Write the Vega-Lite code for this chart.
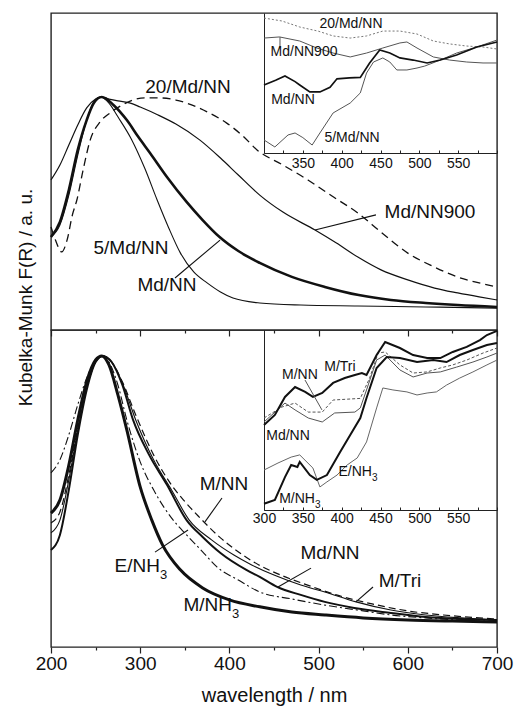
{
  "$schema": "https://vega.github.io/schema/vega-lite/v6.json",
  "padding": {"left": 15, "top": 12, "right": 4, "bottom": 0},
  "bounds": "flush",
  "spacing": 0,
  "config": {
    "view": {"stroke": "#222", "strokeWidth": 1.4},
    "font": "Liberation Sans",
    "axis": {"labelFont": "Liberation Sans", "titleFont": "Liberation Sans", "labelColor": "#111", "titleColor": "#111", "titleFontWeight": "normal", "grid": false},
    "text": {"font": "Liberation Sans", "color": "#111"},
    "line": {"color": "#111"}
  },
  "datasets": {
    "topMain": [
      {"s":"5/Md/NN","x":200,"y":0.399},{"s":"5/Md/NN","x":210,"y":0.451},{"s":"5/Md/NN","x":220,"y":0.579},{"s":"5/Md/NN","x":230,"y":0.751},{"s":"5/Md/NN","x":240,"y":0.901},{"s":"5/Md/NN","x":248,"y":0.979},{"s":"5/Md/NN","x":255,"y":1.0},{"s":"5/Md/NN","x":265,"y":0.974},{"s":"5/Md/NN","x":275,"y":0.915},{"s":"5/Md/NN","x":290,"y":0.82},{"s":"5/Md/NN","x":305,"y":0.695},{"s":"5/Md/NN","x":319,"y":0.558},{"s":"5/Md/NN","x":332,"y":0.438},{"s":"5/Md/NN","x":345,"y":0.331},{"s":"5/Md/NN","x":360,"y":0.249},{"s":"5/Md/NN","x":375,"y":0.202},{"s":"5/Md/NN","x":390,"y":0.163},{"s":"5/Md/NN","x":404,"y":0.137},{"s":"5/Md/NN","x":434,"y":0.116},{"s":"5/Md/NN","x":480,"y":0.107},{"s":"5/Md/NN","x":544,"y":0.103},{"s":"5/Md/NN","x":620,"y":0.099},{"s":"5/Md/NN","x":700,"y":0.094},
      {"s":"Md/NN","x":200,"y":0.399},{"s":"Md/NN","x":210,"y":0.464},{"s":"Md/NN","x":220,"y":0.601},{"s":"Md/NN","x":230,"y":0.773},{"s":"Md/NN","x":240,"y":0.901},{"s":"Md/NN","x":248,"y":0.974},{"s":"Md/NN","x":257,"y":1.0},{"s":"Md/NN","x":270,"y":0.966},{"s":"Md/NN","x":285,"y":0.901},{"s":"Md/NN","x":298,"y":0.828},{"s":"Md/NN","x":311,"y":0.76},{"s":"Md/NN","x":330,"y":0.657},{"s":"Md/NN","x":352,"y":0.55},{"s":"Md/NN","x":370,"y":0.472},{"s":"Md/NN","x":389,"y":0.399},{"s":"Md/NN","x":410,"y":0.339},{"s":"Md/NN","x":434,"y":0.288},{"s":"Md/NN","x":470,"y":0.228},{"s":"Md/NN","x":507,"y":0.185},{"s":"Md/NN","x":545,"y":0.15},{"s":"Md/NN","x":581,"y":0.129},{"s":"Md/NN","x":620,"y":0.116},{"s":"Md/NN","x":656,"y":0.107},{"s":"Md/NN","x":700,"y":0.099},
      {"s":"Md/NN900","x":200,"y":0.644},{"s":"Md/NN900","x":210,"y":0.708},{"s":"Md/NN900","x":220,"y":0.794},{"s":"Md/NN900","x":230,"y":0.88},{"s":"Md/NN900","x":240,"y":0.953},{"s":"Md/NN900","x":250,"y":0.991},{"s":"Md/NN900","x":256,"y":1.0},{"s":"Md/NN900","x":265,"y":0.991},{"s":"Md/NN900","x":275,"y":0.983},{"s":"Md/NN900","x":289,"y":0.974},{"s":"Md/NN900","x":300,"y":0.957},{"s":"Md/NN900","x":320,"y":0.923},{"s":"Md/NN900","x":340,"y":0.884},{"s":"Md/NN900","x":367,"y":0.815},{"s":"Md/NN900","x":390,"y":0.738},{"s":"Md/NN900","x":410,"y":0.665},{"s":"Md/NN900","x":434,"y":0.579},{"s":"Md/NN900","x":460,"y":0.506},{"s":"Md/NN900","x":496,"y":0.429},{"s":"Md/NN900","x":520,"y":0.373},{"s":"Md/NN900","x":544,"y":0.313},{"s":"Md/NN900","x":570,"y":0.258},{"s":"Md/NN900","x":600,"y":0.215},{"s":"Md/NN900","x":630,"y":0.18},{"s":"Md/NN900","x":656,"y":0.159},{"s":"Md/NN900","x":680,"y":0.142},{"s":"Md/NN900","x":700,"y":0.129},
      {"s":"20/Md/NN","x":200,"y":0.442},{"s":"20/Md/NN","x":205,"y":0.386},{"s":"20/Md/NN","x":212,"y":0.335},{"s":"20/Md/NN","x":218,"y":0.386},{"s":"20/Md/NN","x":224,"y":0.494},{"s":"20/Md/NN","x":229,"y":0.558},{"s":"20/Md/NN","x":236,"y":0.687},{"s":"20/Md/NN","x":244,"y":0.816},{"s":"20/Md/NN","x":255,"y":0.893},{"s":"20/Md/NN","x":266,"y":0.931},{"s":"20/Md/NN","x":280,"y":0.966},{"s":"20/Md/NN","x":292,"y":0.987},{"s":"20/Md/NN","x":305,"y":0.996},{"s":"20/Md/NN","x":322,"y":0.996},{"s":"20/Md/NN","x":340,"y":0.987},{"s":"20/Md/NN","x":352,"y":0.974},{"s":"20/Md/NN","x":375,"y":0.936},{"s":"20/Md/NN","x":397,"y":0.888},{"s":"20/Md/NN","x":415,"y":0.833},{"s":"20/Md/NN","x":431,"y":0.773},{"s":"20/Md/NN","x":460,"y":0.708},{"s":"20/Md/NN","x":488,"y":0.644},{"s":"20/Md/NN","x":515,"y":0.575},{"s":"20/Md/NN","x":544,"y":0.502},{"s":"20/Md/NN","x":570,"y":0.42},{"s":"20/Md/NN","x":600,"y":0.33},{"s":"20/Md/NN","x":630,"y":0.27},{"s":"20/Md/NN","x":656,"y":0.227},{"s":"20/Md/NN","x":680,"y":0.202},{"s":"20/Md/NN","x":700,"y":0.185}
    ],
    "topMainLabels": [
      {"t":"20/Md/NN","x":353.6,"y":1.043},{"t":"5/Md/NN","x":289.7,"y":0.352},{"t":"Md/NN","x":330,"y":0.193},{"t":"Md/NN900","x":624.9,"y":0.506}
    ],
    "topMainLeaders": [
      {"x":339,"y":0.223,"x2":389.5,"y2":0.386},{"x":564.3,"y":0.494,"x2":496,"y2":0.429}
    ],
    "topInset": [
      {"s":"20/Md/NN","x":300,"y":0.964},{"s":"20/Md/NN","x":323,"y":0.943},{"s":"20/Md/NN","x":346,"y":0.9},{"s":"20/Md/NN","x":370,"y":0.87},{"s":"20/Md/NN","x":389,"y":0.836},{"s":"20/Md/NN","x":411,"y":0.821},{"s":"20/Md/NN","x":432,"y":0.836},{"s":"20/Md/NN","x":453,"y":0.871},{"s":"20/Md/NN","x":475,"y":0.871},{"s":"20/Md/NN","x":497,"y":0.85},{"s":"20/Md/NN","x":518,"y":0.8},{"s":"20/Md/NN","x":539,"y":0.779},{"s":"20/Md/NN","x":561,"y":0.764},{"s":"20/Md/NN","x":582,"y":0.757},{"s":"20/Md/NN","x":600,"y":0.743},
      {"s":"Md/NN900","x":300,"y":0.821},{"s":"Md/NN900","x":320,"y":0.829},{"s":"Md/NN900","x":346,"y":0.8},{"s":"Md/NN900","x":368,"y":0.75},{"s":"Md/NN900","x":389,"y":0.714},{"s":"Md/NN900","x":411,"y":0.686},{"s":"Md/NN900","x":432,"y":0.714},{"s":"Md/NN900","x":453,"y":0.75},{"s":"Md/NN900","x":475,"y":0.786},{"s":"Md/NN900","x":484,"y":0.793},{"s":"Md/NN900","x":497,"y":0.75},{"s":"Md/NN900","x":518,"y":0.686},{"s":"Md/NN900","x":539,"y":0.664},{"s":"Md/NN900","x":561,"y":0.65},{"s":"Md/NN900","x":582,"y":0.643},{"s":"Md/NN900","x":600,"y":0.643},
      {"s":"Md/NN","x":300,"y":0.486},{"s":"Md/NN","x":315,"y":0.52},{"s":"Md/NN","x":327,"y":0.55},{"s":"Md/NN","x":340,"y":0.51},{"s":"Md/NN","x":346,"y":0.486},{"s":"Md/NN","x":359,"y":0.436},{"s":"Md/NN","x":372,"y":0.436},{"s":"Md/NN","x":385,"y":0.47},{"s":"Md/NN","x":394,"y":0.53},{"s":"Md/NN","x":410,"y":0.536},{"s":"Md/NN","x":424,"y":0.54},{"s":"Md/NN","x":436,"y":0.643},{"s":"Md/NN","x":449,"y":0.736},{"s":"Md/NN","x":462,"y":0.714},{"s":"Md/NN","x":475,"y":0.679},{"s":"Md/NN","x":492,"y":0.664},{"s":"Md/NN","x":510,"y":0.643},{"s":"Md/NN","x":527,"y":0.664},{"s":"Md/NN","x":548,"y":0.7},{"s":"Md/NN","x":574,"y":0.757},{"s":"Md/NN","x":600,"y":0.793},
      {"s":"5/Md/NN","x":300,"y":0.093},{"s":"5/Md/NN","x":314,"y":0.043},{"s":"5/Md/NN","x":331,"y":0.129},{"s":"5/Md/NN","x":340,"y":0.143},{"s":"5/Md/NN","x":350,"y":0.11},{"s":"5/Md/NN","x":362,"y":0.057},{"s":"5/Md/NN","x":372,"y":0.143},{"s":"5/Md/NN","x":389,"y":0.286},{"s":"5/Md/NN","x":411,"y":0.357},{"s":"5/Md/NN","x":424,"y":0.429},{"s":"5/Md/NN","x":432,"y":0.571},{"s":"5/Md/NN","x":441,"y":0.65},{"s":"5/Md/NN","x":453,"y":0.679},{"s":"5/Md/NN","x":462,"y":0.65},{"s":"5/Md/NN","x":471,"y":0.593},{"s":"5/Md/NN","x":484,"y":0.593},{"s":"5/Md/NN","x":497,"y":0.607},{"s":"5/Md/NN","x":507,"y":0.621},{"s":"5/Md/NN","x":527,"y":0.664},{"s":"5/Md/NN","x":548,"y":0.714},{"s":"5/Md/NN","x":574,"y":0.757},{"s":"5/Md/NN","x":600,"y":0.807}
    ],
    "topInsetLabels": [
      {"t":"20/Md/NN","x":412,"y":0.921},{"t":"Md/NN900","x":351.5,"y":0.721},{"t":"Md/NN","x":337.3,"y":0.379},{"t":"5/Md/NN","x":413.3,"y":0.107}
    ],
    "topInsetLeaders": [
      {"x":320.6,"y":0.829,"x2":320.6,"y2":0.75}
    ],
    "botMain": [
      {"s":"M/NH3","x":200,"y":0.46},{"s":"M/NH3","x":210,"y":0.505},{"s":"M/NH3","x":220,"y":0.625},{"s":"M/NH3","x":230,"y":0.78},{"s":"M/NH3","x":240,"y":0.911},{"s":"M/NH3","x":250,"y":0.986},{"s":"M/NH3","x":257,"y":1.0},{"s":"M/NH3","x":265,"y":0.969},{"s":"M/NH3","x":275,"y":0.866},{"s":"M/NH3","x":285,"y":0.746},{"s":"M/NH3","x":300,"y":0.55},{"s":"M/NH3","x":313,"y":0.436},{"s":"M/NH3","x":325,"y":0.351},{"s":"M/NH3","x":345,"y":0.265},{"s":"M/NH3","x":370,"y":0.203},{"s":"M/NH3","x":400,"y":0.162},{"s":"M/NH3","x":434,"y":0.138},{"s":"M/NH3","x":470,"y":0.12},{"s":"M/NH3","x":507,"y":0.11},{"s":"M/NH3","x":550,"y":0.1},{"s":"M/NH3","x":600,"y":0.093},{"s":"M/NH3","x":650,"y":0.089},{"s":"M/NH3","x":700,"y":0.086},
      {"s":"E/NH3","x":200,"y":0.598},{"s":"E/NH3","x":210,"y":0.643},{"s":"E/NH3","x":220,"y":0.729},{"s":"E/NH3","x":230,"y":0.832},{"s":"E/NH3","x":240,"y":0.924},{"s":"E/NH3","x":250,"y":0.986},{"s":"E/NH3","x":257,"y":1.0},{"s":"E/NH3","x":265,"y":0.979},{"s":"E/NH3","x":275,"y":0.9},{"s":"E/NH3","x":285,"y":0.78},{"s":"E/NH3","x":300,"y":0.636},{"s":"E/NH3","x":315,"y":0.54},{"s":"E/NH3","x":337,"y":0.436},{"s":"E/NH3","x":352,"y":0.385},{"s":"E/NH3","x":370,"y":0.327},{"s":"E/NH3","x":386,"y":0.275},{"s":"E/NH3","x":410,"y":0.23},{"s":"E/NH3","x":434,"y":0.189},{"s":"E/NH3","x":470,"y":0.165},{"s":"E/NH3","x":507,"y":0.144},{"s":"E/NH3","x":550,"y":0.124},{"s":"E/NH3","x":581,"y":0.11},{"s":"E/NH3","x":620,"y":0.1},{"s":"E/NH3","x":660,"y":0.093},{"s":"E/NH3","x":700,"y":0.093},
      {"s":"Md/NN","x":200,"y":0.333},{"s":"Md/NN","x":210,"y":0.385},{"s":"Md/NN","x":220,"y":0.54},{"s":"Md/NN","x":230,"y":0.729},{"s":"Md/NN","x":240,"y":0.883},{"s":"Md/NN","x":250,"y":0.979},{"s":"Md/NN","x":258,"y":1.0},{"s":"Md/NN","x":268,"y":0.979},{"s":"Md/NN","x":280,"y":0.9},{"s":"Md/NN","x":292,"y":0.78},{"s":"Md/NN","x":310,"y":0.66},{"s":"Md/NN","x":330,"y":0.557},{"s":"Md/NN","x":352,"y":0.436},{"s":"Md/NN","x":370,"y":0.378},{"s":"Md/NN","x":390,"y":0.323},{"s":"Md/NN","x":419,"y":0.265},{"s":"Md/NN","x":434,"y":0.241},{"s":"Md/NN","x":454,"y":0.206},{"s":"Md/NN","x":480,"y":0.179},{"s":"Md/NN","x":507,"y":0.155},{"s":"Md/NN","x":540,"y":0.134},{"s":"Md/NN","x":581,"y":0.117},{"s":"Md/NN","x":620,"y":0.103},{"s":"Md/NN","x":660,"y":0.096},{"s":"Md/NN","x":700,"y":0.093},
      {"s":"M/Tri","x":200,"y":0.392},{"s":"M/Tri","x":210,"y":0.436},{"s":"M/Tri","x":220,"y":0.574},{"s":"M/Tri","x":230,"y":0.746},{"s":"M/Tri","x":240,"y":0.89},{"s":"M/Tri","x":250,"y":0.979},{"s":"M/Tri","x":258,"y":1.0},{"s":"M/Tri","x":268,"y":0.979},{"s":"M/Tri","x":280,"y":0.907},{"s":"M/Tri","x":295,"y":0.78},{"s":"M/Tri","x":315,"y":0.643},{"s":"M/Tri","x":335,"y":0.54},{"s":"M/Tri","x":355,"y":0.436},{"s":"M/Tri","x":380,"y":0.368},{"s":"M/Tri","x":405,"y":0.316},{"s":"M/Tri","x":425,"y":0.282},{"s":"M/Tri","x":450,"y":0.247},{"s":"M/Tri","x":480,"y":0.213},{"s":"M/Tri","x":507,"y":0.189},{"s":"M/Tri","x":542,"y":0.155},{"s":"M/Tri","x":581,"y":0.127},{"s":"M/Tri","x":620,"y":0.11},{"s":"M/Tri","x":660,"y":0.1},{"s":"M/Tri","x":700,"y":0.093},
      {"s":"M/NN","x":200,"y":0.426},{"s":"M/NN","x":210,"y":0.464},{"s":"M/NN","x":220,"y":0.591},{"s":"M/NN","x":230,"y":0.753},{"s":"M/NN","x":240,"y":0.89},{"s":"M/NN","x":250,"y":0.979},{"s":"M/NN","x":258,"y":1.0},{"s":"M/NN","x":268,"y":0.979},{"s":"M/NN","x":280,"y":0.911},{"s":"M/NN","x":295,"y":0.797},{"s":"M/NN","x":315,"y":0.66},{"s":"M/NN","x":335,"y":0.557},{"s":"M/NN","x":350,"y":0.5},{"s":"M/NN","x":365,"y":0.45},{"s":"M/NN","x":390,"y":0.375},{"s":"M/NN","x":415,"y":0.316},{"s":"M/NN","x":433,"y":0.282},{"s":"M/NN","x":460,"y":0.244},{"s":"M/NN","x":490,"y":0.21},{"s":"M/NN","x":520,"y":0.179},{"s":"M/NN","x":560,"y":0.148},{"s":"M/NN","x":600,"y":0.124},{"s":"M/NN","x":640,"y":0.11},{"s":"M/NN","x":680,"y":0.1},{"s":"M/NN","x":700,"y":0.096}
    ],
    "botMainLabels": [
      {"t":"M/NN","x":394,"y":0.56},{"t":"Md/NN","x":512.8,"y":0.323},{"t":"M/Tri","x":591.3,"y":0.227}
    ],
    "botMainSubLabels": [
      {"t":"E/NH","x":322.2,"y":0.278},{"t":"M/NH","x":402.9,"y":0.144}
    ],
    "botMainLeaders": [
      {"x":391.7,"y":0.512,"x2":372.6,"y2":0.43},{"x":316.6,"y":0.326,"x2":353.6,"y2":0.402},{"x":491.5,"y":0.271,"x2":454.5,"y2":0.206},{"x":561,"y":0.206,"x2":541.9,"y2":0.155}
    ],
    "botInset": [
      {"s":"M/Tri","x":300,"y":0.472},{"s":"M/Tri","x":314,"y":0.528},{"s":"M/Tri","x":327,"y":0.628},{"s":"M/Tri","x":340,"y":0.683},{"s":"M/Tri","x":353,"y":0.656},{"s":"M/Tri","x":363,"y":0.628},{"s":"M/Tri","x":375,"y":0.65},{"s":"M/Tri","x":389,"y":0.706},{"s":"M/Tri","x":404,"y":0.733},{"s":"M/Tri","x":417,"y":0.75},{"s":"M/Tri","x":426,"y":0.761},{"s":"M/Tri","x":432,"y":0.75},{"s":"M/Tri","x":445,"y":0.861},{"s":"M/Tri","x":456,"y":0.933},{"s":"M/Tri","x":475,"y":0.9},{"s":"M/Tri","x":492,"y":0.861},{"s":"M/Tri","x":510,"y":0.844},{"s":"M/Tri","x":527,"y":0.844},{"s":"M/Tri","x":543,"y":0.878},{"s":"M/Tri","x":561,"y":0.906},{"s":"M/Tri","x":578,"y":0.944},{"s":"M/Tri","x":587,"y":0.972},{"s":"M/Tri","x":600,"y":0.995},
      {"s":"M/NN","x":300,"y":0.511},{"s":"M/NN","x":323,"y":0.572},{"s":"M/NN","x":340,"y":0.594},{"s":"M/NN","x":357,"y":0.544},{"s":"M/NN","x":375,"y":0.544},{"s":"M/NN","x":389,"y":0.611},{"s":"M/NN","x":424,"y":0.62},{"s":"M/NN","x":436,"y":0.733},{"s":"M/NN","x":447,"y":0.872},{"s":"M/NN","x":456,"y":0.878},{"s":"M/NN","x":475,"y":0.806},{"s":"M/NN","x":492,"y":0.761},{"s":"M/NN","x":510,"y":0.767},{"s":"M/NN","x":527,"y":0.789},{"s":"M/NN","x":543,"y":0.806},{"s":"M/NN","x":561,"y":0.833},{"s":"M/NN","x":582,"y":0.872},{"s":"M/NN","x":600,"y":0.9},
      {"s":"Md/NN","x":300,"y":0.489},{"s":"Md/NN","x":327,"y":0.594},{"s":"Md/NN","x":340,"y":0.556},{"s":"Md/NN","x":357,"y":0.511},{"s":"Md/NN","x":375,"y":0.489},{"s":"Md/NN","x":391,"y":0.539},{"s":"Md/NN","x":417,"y":0.544},{"s":"Md/NN","x":424,"y":0.567},{"s":"Md/NN","x":432,"y":0.667},{"s":"Md/NN","x":445,"y":0.833},{"s":"Md/NN","x":456,"y":0.861},{"s":"Md/NN","x":475,"y":0.778},{"s":"Md/NN","x":492,"y":0.739},{"s":"Md/NN","x":510,"y":0.761},{"s":"Md/NN","x":527,"y":0.767},{"s":"Md/NN","x":548,"y":0.794},{"s":"Md/NN","x":569,"y":0.822},{"s":"Md/NN","x":587,"y":0.85},{"s":"Md/NN","x":600,"y":0.872},
      {"s":"M/NH3","x":300,"y":0.035},{"s":"M/NH3","x":314,"y":0.056},{"s":"M/NH3","x":327,"y":0.183},{"s":"M/NH3","x":335,"y":0.25},{"s":"M/NH3","x":343,"y":0.239},{"s":"M/NH3","x":346,"y":0.267},{"s":"M/NH3","x":359,"y":0.194},{"s":"M/NH3","x":368,"y":0.167},{"s":"M/NH3","x":381,"y":0.194},{"s":"M/NH3","x":398,"y":0.322},{"s":"M/NH3","x":411,"y":0.417},{"s":"M/NH3","x":424,"y":0.511},{"s":"M/NH3","x":432,"y":0.622},{"s":"M/NH3","x":445,"y":0.789},{"s":"M/NH3","x":458,"y":0.85},{"s":"M/NH3","x":475,"y":0.844},{"s":"M/NH3","x":497,"y":0.822},{"s":"M/NH3","x":518,"y":0.833},{"s":"M/NH3","x":535,"y":0.822},{"s":"M/NH3","x":552,"y":0.861},{"s":"M/NH3","x":569,"y":0.889},{"s":"M/NH3","x":587,"y":0.917},{"s":"M/NH3","x":600,"y":0.928},
      {"s":"E/NH3","x":300,"y":0.222},{"s":"E/NH3","x":318,"y":0.261},{"s":"E/NH3","x":335,"y":0.294},{"s":"E/NH3","x":346,"y":0.306},{"s":"E/NH3","x":363,"y":0.233},{"s":"E/NH3","x":372,"y":0.128},{"s":"E/NH3","x":381,"y":0.156},{"s":"E/NH3","x":394,"y":0.194},{"s":"E/NH3","x":407,"y":0.25},{"s":"E/NH3","x":420,"y":0.289},{"s":"E/NH3","x":432,"y":0.378},{"s":"E/NH3","x":445,"y":0.567},{"s":"E/NH3","x":453,"y":0.678},{"s":"E/NH3","x":466,"y":0.667},{"s":"E/NH3","x":484,"y":0.656},{"s":"E/NH3","x":497,"y":0.639},{"s":"E/NH3","x":510,"y":0.65},{"s":"E/NH3","x":522,"y":0.656},{"s":"E/NH3","x":535,"y":0.694},{"s":"E/NH3","x":552,"y":0.733},{"s":"E/NH3","x":569,"y":0.767},{"s":"E/NH3","x":587,"y":0.806},{"s":"E/NH3","x":600,"y":0.833}
    ],
    "botInsetLabels": [
      {"t":"M/Tri","x":397.8,"y":0.794},{"t":"M/NN","x":346.3,"y":0.75},{"t":"Md/NN","x":330.9,"y":0.411}
    ],
    "botInsetSubLabels": [
      {"t":"E/NH","x":439,"y":0.211},{"t":"M/NH","x":365.6,"y":0.061}
    ],
    "botInsetLeaders": [
      {"x":352.8,"y":0.722,"x2":374.6,"y2":0.556}
    ]
  },
  "vconcat": [
    {
      "width": 446,
      "height": 317,
      "layer": [
        {
          "encoding": {
            "x": {"field": "x", "type": "quantitative", "scale": {"domain": [200, 700], "nice": false, "zero": false},
              "axis": {"orient": "bottom", "labels": false, "title": null, "domain": false, "values": [200, 250, 300, 350, 400, 450, 500, 550, 600, 650, 700], "tickColor": "#222", "tickWidth": 1.2, "tickSize": {"condition": {"test": "datum.value % 100 === 0", "value": 6}, "value": 3}}},
            "y": {"field": "y", "type": "quantitative", "scale": {"domain": [0, 1.3605], "nice": false, "zero": false},
              "axis": {"title": "Kubelka-Munk F(R) / a. u.", "labels": false, "ticks": false, "domain": false, "titleX": -26, "titleY": 284, "titleAngle": -90, "titleAlign": "center", "titleBaseline": "middle", "titleFontSize": 19}}
          },
          "layer": [
            {"data": {"name": "topMain"}, "transform": [{"filter": "datum.s === '5/Md/NN'"}], "mark": {"type": "line", "interpolate": "monotone", "strokeWidth": 1.1, "color": "#111"}},
            {"data": {"name": "topMain"}, "transform": [{"filter": "datum.s === 'Md/NN'"}], "mark": {"type": "line", "interpolate": "monotone", "strokeWidth": 2.6, "color": "#111"}},
            {"data": {"name": "topMain"}, "transform": [{"filter": "datum.s === 'Md/NN900'"}], "mark": {"type": "line", "interpolate": "monotone", "strokeWidth": 1.2, "color": "#111"}},
            {"data": {"name": "topMain"}, "transform": [{"filter": "datum.s === '20/Md/NN'"}], "mark": {"type": "line", "interpolate": "monotone", "strokeWidth": 1.3, "strokeDash": [8, 5], "color": "#111"}},
            {"data": {"name": "topMainLeaders"}, "mark": {"type": "rule", "color": "#111", "strokeWidth": 1.1}, "encoding": {"x2": {"field": "x2"}, "y2": {"field": "y2"}}},
            {"data": {"name": "topMainLabels"}, "mark": {"type": "text", "fontSize": 19, "align": "center", "baseline": "middle"}, "encoding": {"text": {"field": "t"}}}
          ]
        },
        {
          "encoding": {
            "x": {"field": "x", "type": "quantitative", "scale": {"domain": [300, 600], "range": [213, 446], "nice": false, "zero": false},
              "axis": {"orient": "bottom", "offset": -177, "title": null, "values": [300, 325, 350, 375, 400, 425, 450, 475, 500, 525, 550, 575, 600], "labelExpr": "datum.value % 50 === 0 && datum.value > 300 && datum.value < 600 ? datum.label : ''", "tickSize": -3, "labelPadding": 6, "labelFontSize": 14, "labelOverlap": false, "labelFlush": false, "domainColor": "#222", "tickColor": "#222"}},
            "y": {"field": "y", "type": "quantitative", "scale": {"domain": [0, 1], "range": [140, 0], "nice": false, "zero": false},
              "axis": {"orient": "left", "offset": -213, "title": null, "labels": false, "ticks": false, "domainColor": "#222"}}
          },
          "layer": [
            {"data": {"name": "topInset"}, "transform": [{"filter": "datum.s === '20/Md/NN'"}], "mark": {"type": "line", "strokeWidth": 1, "strokeDash": [2, 2], "color": "#777"}},
            {"data": {"name": "topInset"}, "transform": [{"filter": "datum.s === 'Md/NN900'"}], "mark": {"type": "line", "strokeWidth": 1, "color": "#555"}},
            {"data": {"name": "topInset"}, "transform": [{"filter": "datum.s === '5/Md/NN'"}], "mark": {"type": "line", "strokeWidth": 1, "color": "#555"}},
            {"data": {"name": "topInset"}, "transform": [{"filter": "datum.s === 'Md/NN'"}], "mark": {"type": "line", "strokeWidth": 1.7, "color": "#111"}},
            {"data": {"name": "topInsetLeaders"}, "mark": {"type": "rule", "color": "#555", "strokeWidth": 1}, "encoding": {"x2": {"field": "x2"}, "y2": {"field": "y2"}}},
            {"data": {"name": "topInsetLabels"}, "mark": {"type": "text", "fontSize": 14, "align": "center", "baseline": "middle"}, "encoding": {"text": {"field": "t"}}}
          ]
        }
      ],
      "resolve": {"scale": {"x": "independent", "y": "independent"}, "axis": {"x": "independent", "y": "independent"}}
    },
    {
      "width": 446,
      "height": 317,
      "layer": [
        {
          "encoding": {
            "x": {"field": "x", "type": "quantitative", "scale": {"domain": [200, 700], "nice": false, "zero": false},
              "axis": {"orient": "bottom", "title": "wavelength / nm", "titleFontSize": 20, "titlePadding": 12, "domain": false, "values": [200, 250, 300, 350, 400, 450, 500, 550, 600, 650, 700], "labelExpr": "datum.value % 100 === 0 ? datum.label : ''", "labelFontSize": 19, "labelPadding": 1, "labelOverlap": false, "labelFlush": false, "tickColor": "#222", "tickWidth": 1.2, "tickSize": {"condition": {"test": "datum.value % 100 === 0", "value": 6}, "value": 3}}},
            "y": {"field": "y", "type": "quantitative", "scale": {"domain": [0, 1.089], "nice": false, "zero": false},
              "axis": {"title": null, "labels": false, "ticks": false, "domain": false}}
          },
          "layer": [
            {"data": {"name": "botMain"}, "transform": [{"filter": "datum.s === 'M/Tri'"}], "mark": {"type": "line", "interpolate": "monotone", "strokeWidth": 1.1, "color": "#111"}},
            {"data": {"name": "botMain"}, "transform": [{"filter": "datum.s === 'M/NN'"}], "mark": {"type": "line", "interpolate": "monotone", "strokeWidth": 1.2, "strokeDash": [7, 4], "color": "#111"}},
            {"data": {"name": "botMain"}, "transform": [{"filter": "datum.s === 'E/NH3'"}], "mark": {"type": "line", "interpolate": "monotone", "strokeWidth": 1.1, "strokeDash": [8, 3, 2, 3], "color": "#111"}},
            {"data": {"name": "botMain"}, "transform": [{"filter": "datum.s === 'Md/NN'"}], "mark": {"type": "line", "interpolate": "monotone", "strokeWidth": 2, "color": "#111"}},
            {"data": {"name": "botMain"}, "transform": [{"filter": "datum.s === 'M/NH3'"}], "mark": {"type": "line", "interpolate": "monotone", "strokeWidth": 3, "color": "#111"}},
            {"data": {"name": "botMainLeaders"}, "mark": {"type": "rule", "color": "#111", "strokeWidth": 1.1}, "encoding": {"x2": {"field": "x2"}, "y2": {"field": "y2"}}},
            {"data": {"name": "botMainLabels"}, "mark": {"type": "text", "fontSize": 19, "align": "center", "baseline": "middle"}, "encoding": {"text": {"field": "t"}}},
            {"data": {"name": "botMainSubLabels"}, "mark": {"type": "text", "fontSize": 19, "align": "right", "baseline": "middle"}, "encoding": {"text": {"field": "t"}}},
            {"data": {"name": "botMainSubLabels"}, "mark": {"type": "text", "fontSize": 13, "align": "left", "baseline": "middle", "dy": 9, "text": "3"}}
          ]
        },
        {
          "encoding": {
            "x": {"field": "x", "type": "quantitative", "scale": {"domain": [300, 600], "range": [213, 446], "nice": false, "zero": false},
              "axis": {"orient": "bottom", "offset": -137, "title": null, "values": [300, 325, 350, 375, 400, 425, 450, 475, 500, 525, 550, 575, 600], "labelExpr": "datum.value % 50 === 0 && datum.value < 600 ? datum.label : ''", "tickSize": -3, "labelPadding": 4, "labelFontSize": 14, "labelOverlap": false, "labelFlush": false, "domainColor": "#222", "tickColor": "#222"}},
            "y": {"field": "y", "type": "quantitative", "scale": {"domain": [0, 1], "range": [180, 0], "nice": false, "zero": false},
              "axis": {"orient": "left", "offset": -213, "title": null, "labels": false, "ticks": false, "domainColor": "#222"}}
          },
          "layer": [
            {"data": {"name": "botInset"}, "transform": [{"filter": "datum.s === 'M/NN'"}], "mark": {"type": "line", "strokeWidth": 1, "strokeDash": [3, 2], "color": "#555"}},
            {"data": {"name": "botInset"}, "transform": [{"filter": "datum.s === 'Md/NN'"}], "mark": {"type": "line", "strokeWidth": 1, "color": "#555"}},
            {"data": {"name": "botInset"}, "transform": [{"filter": "datum.s === 'E/NH3'"}], "mark": {"type": "line", "strokeWidth": 1, "color": "#666"}},
            {"data": {"name": "botInset"}, "transform": [{"filter": "datum.s === 'M/Tri'"}], "mark": {"type": "line", "strokeWidth": 2, "color": "#111"}},
            {"data": {"name": "botInset"}, "transform": [{"filter": "datum.s === 'M/NH3'"}], "mark": {"type": "line", "strokeWidth": 2, "color": "#111"}},
            {"data": {"name": "botInsetLeaders"}, "mark": {"type": "rule", "color": "#555", "strokeWidth": 1}, "encoding": {"x2": {"field": "x2"}, "y2": {"field": "y2"}}},
            {"data": {"name": "botInsetLabels"}, "mark": {"type": "text", "fontSize": 14, "align": "center", "baseline": "middle"}, "encoding": {"text": {"field": "t"}}},
            {"data": {"name": "botInsetSubLabels"}, "mark": {"type": "text", "fontSize": 14, "align": "right", "baseline": "middle"}, "encoding": {"text": {"field": "t"}}},
            {"data": {"name": "botInsetSubLabels"}, "mark": {"type": "text", "fontSize": 10, "align": "left", "baseline": "middle", "dy": 6, "text": "3"}}
          ]
        }
      ],
      "resolve": {"scale": {"x": "independent", "y": "independent"}, "axis": {"x": "independent", "y": "independent"}}
    }
  ]
}
